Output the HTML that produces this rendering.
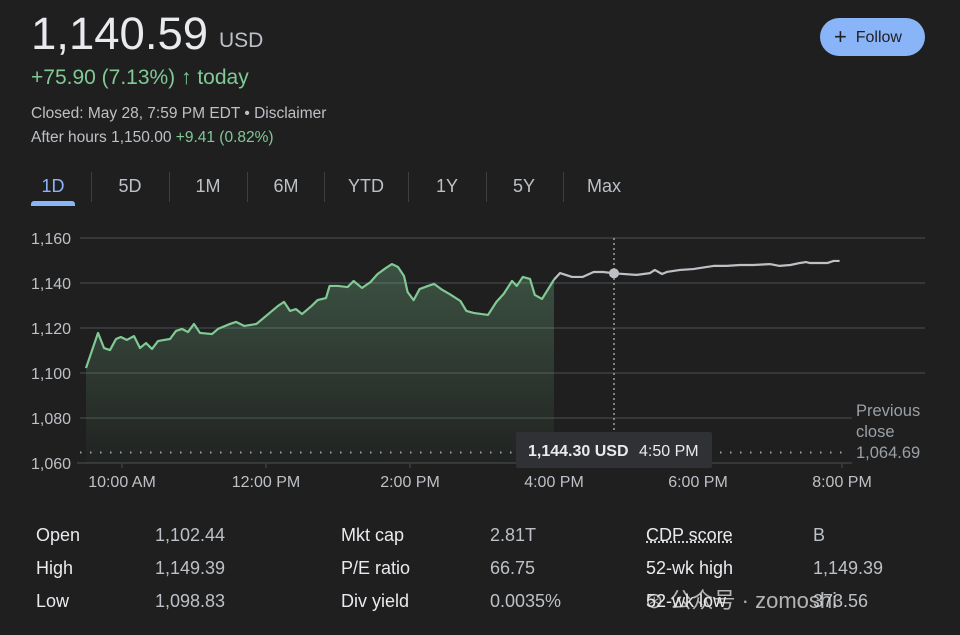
<!DOCTYPE html>
<html><head><meta charset="utf-8"><style>
*{margin:0;padding:0;box-sizing:border-box}
body{width:960px;height:635px;background:#1f1f1f;font-family:"Liberation Sans","Noto Sans CJK SC",sans-serif;color:#e8eaed;position:relative;overflow:hidden}
.a{position:absolute;white-space:nowrap}
.g{color:#81c995}
.s{color:#bdc1c6}
.tab{position:absolute;top:176px;font-size:18px;color:#bdc1c6;text-align:center;width:60px}
.sep{position:absolute;top:172px;width:1px;height:30px;background:#3c4043}
.st{position:absolute;font-size:18px;color:#e8eaed}
.sv{position:absolute;font-size:18px;color:#bdc1c6}
</style></head><body>
<div class="a" style="left:31px;top:8px;font-size:45.5px;color:#e8eaed">1,140.59</div>
<div class="a" style="left:219px;top:29px;font-size:21px;color:#bdc1c6">USD</div>
<div class="a g" style="left:31px;top:66px;font-size:21px">+75.90 (7.13%) <span style="font-weight:bold">↑</span> today</div>
<div class="a s" style="left:31px;top:105px;font-size:15.5px">Closed: May 28, 7:59 PM EDT • Disclaimer</div>
<div class="a s" style="left:31px;top:129px;font-size:15.5px">After hours 1,150.00 <span class="g">+9.41 (0.82%)</span></div>
<div class="a" style="left:820px;top:18px;width:105px;height:38px;border-radius:19px;background:#8ab4f8;color:#202124;font-size:16px;line-height:38px;padding-left:14px"><span style="font-size:22px;vertical-align:-2px">+</span>&nbsp; Follow</div>
<div class="tab" style="left:23px;color:#8ab4f8">1D</div>
<div class="a" style="left:31px;top:201px;width:44px;height:5px;background:#8ab4f8;border-radius:3px 3px 0 0"></div>
<div class="sep" style="left:91px"></div>
<div class="tab" style="left:100px">5D</div>
<div class="sep" style="left:169px"></div>
<div class="tab" style="left:178px">1M</div>
<div class="sep" style="left:247px"></div>
<div class="tab" style="left:256px">6M</div>
<div class="sep" style="left:324px"></div>
<div class="tab" style="left:336px">YTD</div>
<div class="sep" style="left:408px"></div>
<div class="tab" style="left:417px">1Y</div>
<div class="sep" style="left:486px"></div>
<div class="tab" style="left:494px">5Y</div>
<div class="sep" style="left:563px"></div>
<div class="tab" style="left:574px">Max</div>

<svg id="chart" class="a" style="left:0;top:0" width="960" height="500"></svg>

<div class="st" style="left:36px;top:525px">Open</div>
<div class="sv" style="left:155px;top:525px">1,102.44</div>
<div class="st" style="left:36px;top:558px">High</div>
<div class="sv" style="left:155px;top:558px">1,149.39</div>
<div class="st" style="left:36px;top:591px">Low</div>
<div class="sv" style="left:155px;top:591px">1,098.83</div>
<div class="st" style="left:341px;top:525px">Mkt cap</div>
<div class="sv" style="left:490px;top:525px">2.81T</div>
<div class="st" style="left:341px;top:558px">P/E ratio</div>
<div class="sv" style="left:490px;top:558px">66.75</div>
<div class="st" style="left:341px;top:591px">Div yield</div>
<div class="sv" style="left:490px;top:591px">0.0035%</div>
<div class="st" style="left:646px;top:525px;text-decoration:underline dotted">CDP score</div>
<div class="sv" style="left:813px;top:525px">B</div>
<div class="st" style="left:646px;top:558px">52-wk high</div>
<div class="sv" style="left:813px;top:558px">1,149.39</div>
<div class="st" style="left:646px;top:591px">52-wk low</div>
<div class="sv" style="left:813px;top:591px">373.56</div>
<div class="a" style="left:645px;top:583px;font-size:22px;color:rgba(230,230,230,0.75)">⊛ 公众号 · zomoshi</div>

<script>
const regMinutes=[0,10,15,20,25,29,34,40,45,50,55,60,65,70,75,80,85,90,95,105,110,120,125,132,142,147,153,160,165,170,175,180,188,193,200,203,210,218,223,230,237,243,250,255,260,265,268,273,278,285,290,297,303,312,317,323,335,342,348,355,359,364,370,374,380,390];
const regPrices=[1102.2,1117.8,1111.1,1110.2,1115.1,1116,1114.7,1116.4,1111.1,1113.3,1110.7,1114.2,1114.7,1115.1,1118.7,1119.6,1118.2,1121.8,1117.8,1117.3,1119.6,1121.8,1122.7,1120.9,1121.8,1124,1126.7,1129.8,1131.6,1127.6,1128.4,1126.2,1129.8,1132.4,1133.3,1138.7,1138.7,1138.2,1140.9,1137.8,1140.4,1144,1146.7,1148.4,1147.1,1143.1,1136,1132.4,1137.3,1138.7,1139.6,1136.9,1135.1,1132,1127.6,1126.7,1125.8,1131.6,1135.1,1140.9,1138.7,1142.7,1141.8,1134.7,1132.9,1141.5];
const ahMinutes=[390,395,405,414,423,431,440,459,470,474,480,484,495,506,512,523,534,545,556,570,578,587,595,600,603,609,618,623,628];
const ahPrices=[1141.5,1144.4,1142.7,1142.7,1144.9,1144.9,1144.3,1143.6,1144.4,1145.8,1144,1144.9,1145.8,1146.2,1146.7,1147.6,1147.6,1148,1148,1148.4,1147.6,1148,1148.9,1149.3,1148.9,1148.9,1148.9,1149.8,1149.8];
const yTicks=[1060,1080,1100,1120,1140,1160];
const yTickLabels=["1,060","1,080","1,100","1,120","1,140","1,160"];
const xTicks=[30,150,270,390,510,630];
const xTickLabels=["10:00 AM","12:00 PM","2:00 PM","4:00 PM","6:00 PM","8:00 PM"];
const prevClose=1064.69;
const hoverMinute=440, hoverPrice=1144.30;

const NS="http://www.w3.org/2000/svg";
const svg=document.getElementById('chart');
const X=m=>86+m*72/60;
const Y=p=>238+(1160-p)*2.25;
function mk(t,a,txt){const e=document.createElementNS(NS,t);for(const k in a)e.setAttribute(k,a[k]);if(txt!=null)e.textContent=txt;svg.appendChild(e);return e;}
const defs=mk('defs',{});
defs.innerHTML='<linearGradient id="gf" x1="0" y1="0" x2="0" y2="1"><stop offset="0" stop-color="#81c995" stop-opacity="0.3"/><stop offset="1" stop-color="#81c995" stop-opacity="0.02"/></linearGradient>';
yTicks.forEach((v,i)=>{
  if(v>1060){const l=mk('line',{x1:80,x2:925,y1:Y(v),y2:Y(v),stroke:'#3c4043','stroke-width':1.5});
  
  }
  const t=mk('text',{x:31,y:Y(v)+6,fill:'#bdc1c6','font-size':16,'font-family':'Liberation Sans'},yTickLabels[i]);
  
  
});
const base=mk('line',{x1:77,x2:925,y1:Y(1060),y2:Y(1060),stroke:'#3c4043','stroke-width':1.5});


xTicks.forEach((m,i)=>{
  mk('line',{x1:X(m),x2:X(m),y1:Y(1060),y2:Y(1060)+5,stroke:'#3c4043','stroke-width':1.5});
  const t=mk('text',{x:X(m),y:487,fill:'#bdc1c6','font-size':16,'text-anchor':'middle','font-family':'Liberation Sans'},xTickLabels[i]);
  
  
});
const pc=mk('line',{x1:80,x2:850,y1:Y(prevClose),y2:Y(prevClose),stroke:'#9aa0a6','stroke-width':2,'stroke-dasharray':'1.5 8.5'});


let rp=regMinutes.map((m,i)=>X(m)+','+Y(regPrices[i])).join(' ');
const area=mk('polygon',{points:X(regMinutes[0])+','+Y(1060)+' '+rp+' '+X(regMinutes[regMinutes.length-1])+','+Y(1060),fill:'url(#gf)'});


const hx=X(hoverMinute);
mk('line',{x1:hx,x2:hx,y1:Y(1160),y2:432,stroke:'#9aa0a6','stroke-width':1.5,'stroke-dasharray':'2 3'});
const al=mk('polyline',{points:ahMinutes.map((m,i)=>X(m)+','+Y(ahPrices[i])).join(' '),fill:'none',stroke:'#bdc1c6','stroke-width':2.2,'stroke-linejoin':'round'});


const rl=mk('polyline',{points:rp,fill:'none',stroke:'#81c995','stroke-width':2.2,'stroke-linejoin':'round'});


const dot=mk('circle',{cx:hx,cy:Y(hoverPrice),r:5,fill:'#bdc1c6'});


const tb=mk('rect',{x:hx-98,y:432,width:196,height:36,fill:'#303134',rx:2});


mk('text',{x:hx-86,y:456,fill:'#e8eaed','font-size':16,'font-family':'Liberation Sans','font-weight':'bold'},'1,144.30 USD');
mk('text',{x:hx+25,y:456,fill:'#e8eaed','font-size':16,'font-family':'Liberation Sans'},'4:50 PM');
mk('rect',{x:852,y:398,width:75,height:66,fill:'#1f1f1f'});
const pl=['Previous','close','1,064.69'];
pl.forEach((s,i)=>{const t=mk('text',{x:856,y:416+i*21,fill:'#9aa0a6','font-size':16.5,'font-family':'Liberation Sans'},s);

});
</script>
</body></html>
